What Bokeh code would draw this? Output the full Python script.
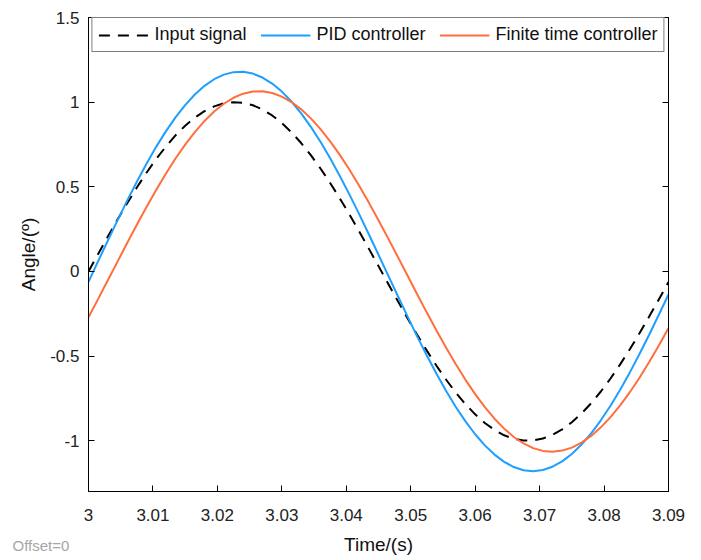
from bokeh.plotting import figure
from bokeh.models import (LinearAxis, FixedTicker, CustomJSTickFormatter, Range1d,
                          Legend, LegendItem, Label, CustomLabelingPolicy)
from bokeh.embed import file_html
from bokeh.resources import INLINE

# ---- data ----
time = [round(3.0 + 0.0015 * k, 4) for k in range(61)]

input_signal = [0.0000, 0.1035, 0.2059, 0.3061, 0.4029, 0.4955, 0.5827, 0.6637, 0.7375, 0.8034,
                0.8607, 0.9088, 0.9471, 0.9752, 0.9929, 0.9999, 0.9961, 0.9817, 0.9567, 0.9215,
                0.8763, 0.8217, 0.7584, 0.6868, 0.6079, 0.5225, 0.4314, 0.3358, 0.2365, 0.1347,
                0.0314, -0.0722, -0.1750, -0.2760, -0.3740, -0.4679, -0.5569, -0.6399, -0.7159, -0.7843,
                -0.8443, -0.8952, -0.9365, -0.9678, -0.9887, -0.9989, -0.9984, -0.9872, -0.9654, -0.9332,
                -0.8910, -0.8392, -0.7785, -0.7093, -0.6326, -0.5490, -0.4596, -0.3652, -0.2669, -0.1657,
                -0.0628]

pid = [-0.0618, 0.0605, 0.1821, 0.3018, 0.4183, 0.5302, 0.6364, 0.7358, 0.8274, 0.9100,
       0.9828, 1.0451, 1.0962, 1.1355, 1.1626, 1.1773, 1.1793, 1.1686, 1.1454, 1.1098,
       1.0624, 1.0035, 0.9339, 0.8542, 0.7654, 0.6684, 0.5641, 0.4538, 0.3387, 0.2199,
       0.0987, -0.0235, -0.1454, -0.2658, -0.3834, -0.4968, -0.6049, -0.7065, -0.8005, -0.8860,
       -0.9619, -1.0274, -1.0820, -1.1249, -1.1557, -1.1742, -1.1800, -1.1731, -1.1537, -1.1219,
       -1.0780, -1.0225, -0.9561, -0.8794, -0.7932, -0.6986, -0.5964, -0.4878, -0.3740, -0.2562,
       -0.1356]

finite_time = [-0.2703, -0.1622, -0.0524, 0.0580, 0.1677, 0.2756, 0.3806, 0.4815, 0.5772, 0.6668,
               0.7491, 0.8234, 0.8889, 0.9448, 0.9906, 1.0258, 1.0499, 1.0628, 1.0642, 1.0542,
               1.0329, 1.0005, 0.9574, 0.9040, 0.8408, 0.7687, 0.6883, 0.6005, 0.5062, 0.4065,
               0.3025, 0.1952, 0.0858, -0.0245, -0.1346, -0.2432, -0.3492, -0.4514, -0.5488, -0.6403,
               -0.7250, -0.8018, -0.8700, -0.9289, -0.9778, -1.0163, -1.0438, -1.0601, -1.0650, -1.0584,
               -1.0406, -1.0115, -0.9716, -0.9212, -0.8609, -0.7914, -0.7135, -0.6278, -0.5354, -0.4373,
               -0.3344]

x_ticks = [3.0, 3.01, 3.02, 3.03, 3.04, 3.05, 3.06, 3.07, 3.08, 3.09]
y_ticks = [-1.0, -0.5, 0.0, 0.5, 1.0, 1.5]

FONT = "Liberation Sans"

p = figure(width=701, height=560, output_backend="svg", toolbar_location=None,
           x_range=Range1d(3.0, 3.09), y_range=Range1d(-1.3, 1.5),
           min_border_left=88, min_border_right=33, min_border_top=17, min_border_bottom=69,
           x_axis_label="Time/(s)", y_axis_label="Angle/(º)")

p.background_fill_color = "white"
p.border_fill_color = "white"
p.outline_line_color = "black"
p.outline_line_width = 1
p.grid.visible = False

fmt_x = CustomJSTickFormatter(code="return tick.toFixed(2).replace(/\\.?0+$/, '');")
fmt_y = CustomJSTickFormatter(code="return tick.toFixed(1).replace(/\\.?0+$/, '');")

for ax in p.xaxis:
    ax.ticker = FixedTicker(ticks=x_ticks)
    ax.formatter = fmt_x
for ax in p.yaxis:
    ax.ticker = FixedTicker(ticks=y_ticks)
    ax.formatter = fmt_y

for ax in list(p.xaxis) + list(p.yaxis):
    ax.major_tick_in = 6
    ax.major_tick_out = 0
    ax.minor_tick_line_color = None
    ax.axis_line_color = "black"
    ax.major_tick_line_color = "black"
    ax.major_label_text_font = FONT
    ax.major_label_text_font_size = "17px"
    ax.major_label_text_color = "#222222"
    ax.axis_label_text_font = FONT
    ax.axis_label_text_font_size = "19px"
    ax.axis_label_text_font_style = "normal"
    ax.axis_label_text_color = "#111111"

p.xaxis.major_label_standoff = 17
p.xaxis.axis_label_standoff = 10
p.yaxis.major_label_standoff = 9
p.yaxis.axis_label_standoff = 8

# right axis: inward ticks only, labels suppressed
hide_all = CustomLabelingPolicy(code="""
for (const i of indices) indices.unset(i)
return indices
""")
right = LinearAxis(ticker=FixedTicker(ticks=y_ticks), major_tick_in=6, major_tick_out=0,
                   minor_tick_line_color=None, axis_line_color="black",
                   major_label_text_font_size="1px", major_label_standoff=0,
                   major_label_policy=hide_all)
p.add_layout(right, "right")

r_in = p.line(time, input_signal, line_color="black", line_width=2, line_dash="11 8")
r_pid = p.line(time, pid, line_color="#1E9FFF", line_width=2)
r_ft = p.line(time, finite_time, line_color="#FF6E3C", line_width=2)

legend = Legend(items=[LegendItem(label="Input signal", renderers=[r_in]),
                       LegendItem(label="PID controller", renderers=[r_pid]),
                       LegendItem(label="Finite time controller", renderers=[r_ft])],
                orientation="horizontal", location="top", margin=0,
                padding=6, spacing=14, glyph_width=50, glyph_height=18,
                label_standoff=6, label_height=18,
                label_text_font=FONT, label_text_font_size="18px",
                label_text_color="#111111",
                border_line_color="black", border_line_width=1,
                background_fill_color="white", background_fill_alpha=1)
p.add_layout(legend, "center")

# placed in a side panel so that it is not clipped to the plot frame
offset_lbl = Label(x=2.98821, y=-1.619, text="Offset=0",
                   text_font=FONT, text_font_size="15px", text_color="#a6a6a6",
                   text_baseline="middle", text_align="left", text_line_height=1.0)
p.add_layout(offset_lbl, "above")

open("out.html", "w").write(file_html(p, INLINE))
